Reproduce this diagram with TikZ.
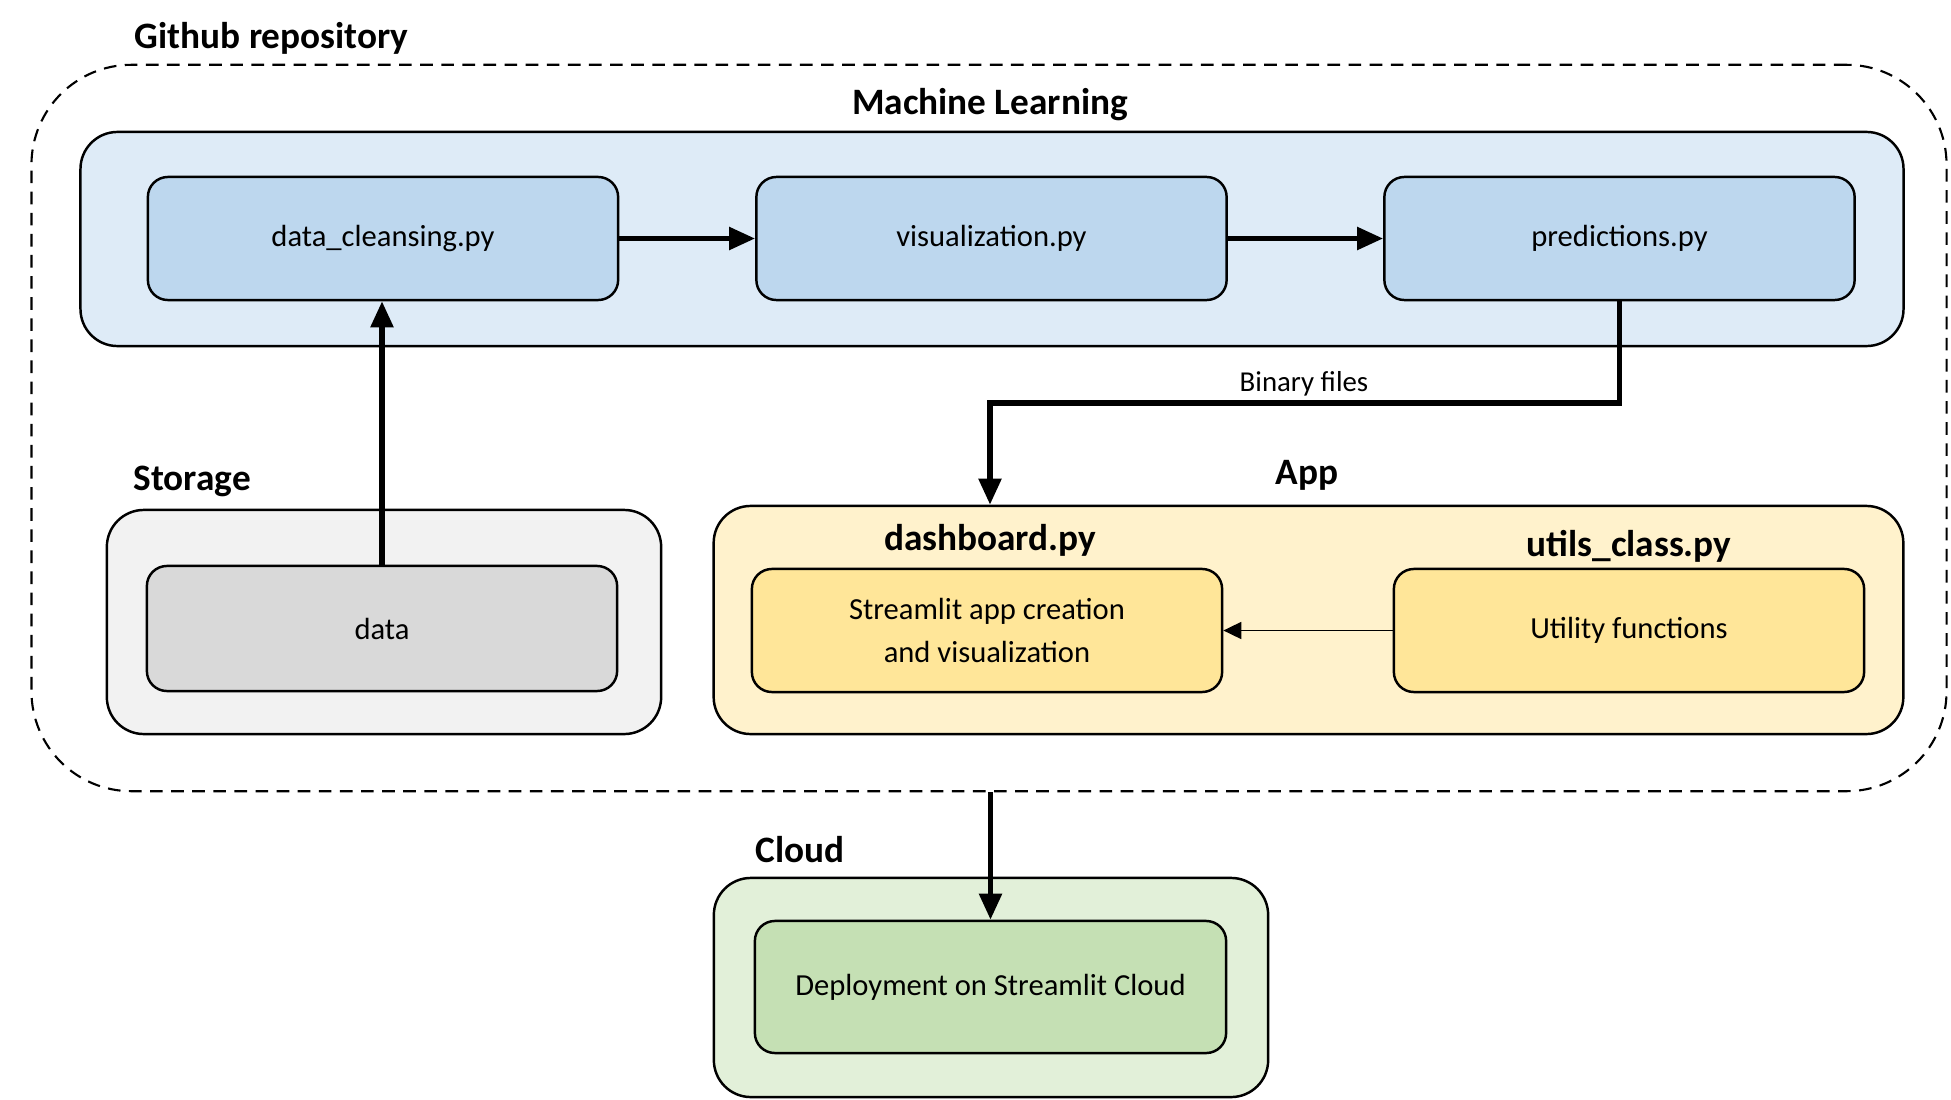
\documentclass[tikz,border=0pt]{standalone}
\usepackage{fontspec}
\setmainfont{Carlito}
\usetikzlibrary{arrows.meta}
\definecolor{mlout}{HTML}{DEEBF7}
\definecolor{mlin}{HTML}{BDD7EE}
\definecolor{stout}{HTML}{F2F2F2}
\definecolor{stin}{HTML}{D9D9D9}
\definecolor{apout}{HTML}{FFF2CC}
\definecolor{apin}{HTML}{FFE699}
\definecolor{clout}{HTML}{E2F0D9}
\definecolor{clin}{HTML}{C5E0B4}
\tikzset{
  outerbox/.style={draw, line width=0.7pt, rounded corners=0.37cm, inner sep=0pt},
  innerbox/.style={draw, line width=0.7pt, rounded corners=0.2cm, inner sep=0pt, align=center,
     font=\fontsize{8.7}{12.5}\selectfont, minimum width=4.7cm, minimum height=1.23cm},
  grouplabel/.style={font=\fontsize{10.6}{12}\selectfont\bfseries, inner sep=0pt},
  thickarrow/.style={line width=1.5pt, -{Triangle[length=2.6mm,width=2.2mm]}},
  thinarrow/.style={line width=0.5pt, -{Triangle[length=1.8mm,width=1.7mm]}},
}
\begin{document}
\begin{tikzpicture}[x=0.01cm,y=-0.01cm]
\useasboundingbox (0,0) rectangle (1951,1100);
% outer dashed repository
\node[draw, dash pattern=on 3.6pt off 2.4pt, line width=0.6pt, rounded corners=1cm,
  minimum width=19.14cm, minimum height=7.26cm, inner sep=0pt] (repo) at (989,428) {};
\node[grouplabel, anchor=west] (repolbl) at (134,38) {Github repository};
% machine learning
\node[outerbox, fill=mlout, minimum width=18.22cm, minimum height=2.14cm] (ml) at (992,239) {};
\node[grouplabel] (mllbl) at (990,105) {Machine Learning};
\node[innerbox, fill=mlin] (dc) at (383,238.5) {data\_cleansing.py};
\node[innerbox, fill=mlin] (vis) at (991.5,238.5) {visualization.py};
\node[innerbox, fill=mlin] (pred) at (1619.5,238.5) {predictions.py};
% storage
\node[outerbox, fill=stout, minimum width=5.54cm, minimum height=2.24cm] (st) at (384,622) {};
\node[grouplabel, anchor=west] (stlbl) at (133,481) {Storage};
\node[innerbox, fill=stin, minimum height=1.25cm] (data) at (382,628.5) {data};
% app
\node[outerbox, fill=apout, minimum width=11.89cm, minimum height=2.28cm] (app) at (1308.5,620) {};
\node[grouplabel] (applbl) at (1307,475) {App};
\node[grouplabel] (dashlbl) at (990,540) {dashboard.py};
\node[grouplabel] (utillbl) at (1629,546) {utils\_class.py};
\node[innerbox, fill=apin] (stream) at (987,630.5) {Streamlit app creation\\and visualization};
\node[innerbox, fill=apin] (util) at (1629,630.5) {Utility functions};
% cloud
\node[outerbox, fill=clout, minimum width=5.54cm, minimum height=2.19cm] (cl) at (991,987.5) {};
\node[grouplabel, anchor=west] (cllbl) at (755,850) {Cloud};
\node[innerbox, fill=clin, minimum width=4.71cm, minimum height=1.32cm] (dep) at (990.5,987) {Deployment on Streamlit Cloud};
% connectors
\draw[thickarrow] (dc.east) -- (vis.west);
\draw[thickarrow] (vis.east) -- (pred.west);
\draw[thickarrow] (data.north) -- (data.north |- dc.south);
\coordinate (bend) at (990,403);
\draw[thickarrow] (pred.south) |- (bend) -- (bend |- app.north);
\node[font=\fontsize{8.2}{10}\selectfont, inner sep=0pt] (binlbl) at (1304,384) {Binary files};
\draw[thinarrow] (util.west) -- (stream.east);
\draw[thickarrow] (repo.south -| dep.north) -- (dep.north);
\end{tikzpicture}
\end{document}
